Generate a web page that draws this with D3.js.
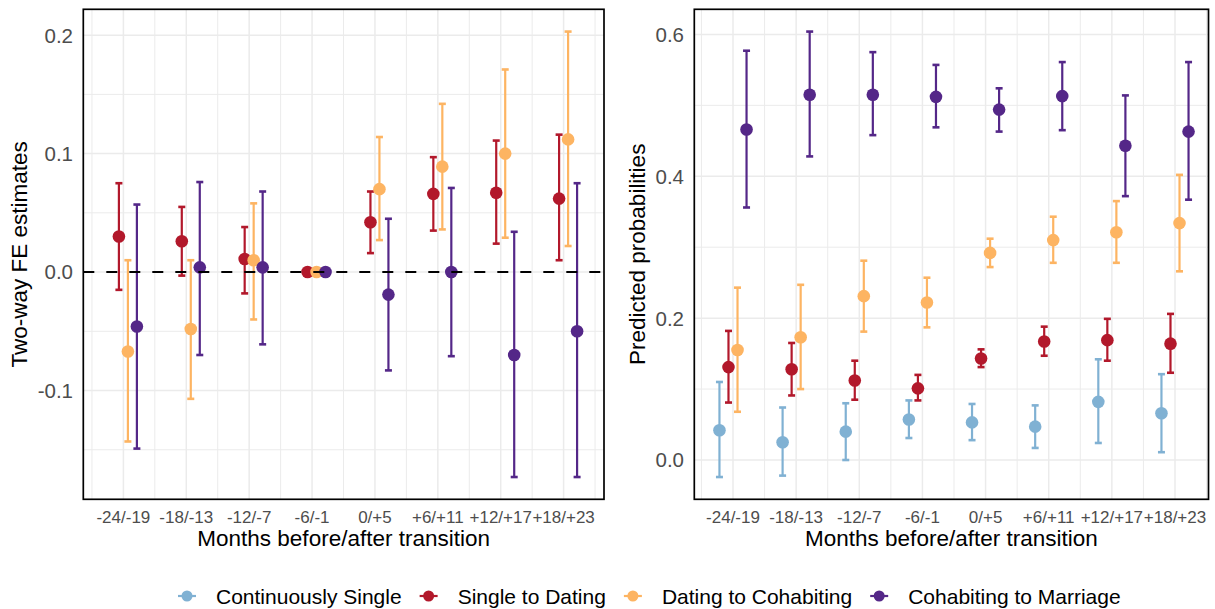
<!DOCTYPE html>
<html>
<head>
<meta charset="utf-8">
<script src="https://cdn.jsdelivr.net/npm/d3@7"></script>
<style>
  body { margin: 0; background: #fff; }
  svg { display: block; font-family: "Liberation Sans", Arial, sans-serif; }
</style>
</head>
<body>
<div id="chart"></div>
<script>
// categories and series
const periods = ['-24/-19', '-18/-13', '-12/-7', '-6/-1', '0/+5', '+6/+11', '+12/+17', '+18/+23'];
const seriesNames = ['Continuously Single', 'Single to Dating', 'Dating to Cohabiting', 'Cohabiting to Marriage'];
const seriesColors = ['#80b1d3', '#b2182b', '#fdb462', '#542788'];

// left panel: two-way FE estimates (no continuously single)
const feSingleDating = [0.030, 0.026, 0.011, 0, 0.042, 0.066, 0.067, 0.062];
const feSingleDatingLo = [-0.015, -0.003, -0.018, 0, 0.016, 0.035, 0.024, 0.010];
const feSingleDatingHi = [0.075, 0.055, 0.038, 0, 0.068, 0.097, 0.111, 0.116];
const feDatingCohab = [-0.067, -0.048, 0.010, 0, 0.070, 0.089, 0.100, 0.112];
const feDatingCohabLo = [-0.143, -0.107, -0.040, 0, 0.027, 0.036, 0.029, 0.022];
const feDatingCohabHi = [0.010, 0.010, 0.058, 0, 0.114, 0.142, 0.171, 0.203];
const feCohabMarr = [-0.046, 0.004, 0.004, 0, -0.019, 0.000, -0.070, -0.050];
const feCohabMarrLo = [-0.149, -0.070, -0.061, 0, -0.083, -0.071, -0.173, -0.173];
const feCohabMarrHi = [0.057, 0.076, 0.068, 0, 0.045, 0.071, 0.034, 0.075];

// right panel: predicted probabilities
const ppSingle = [0.042, 0.025, 0.040, 0.057, 0.053, 0.047, 0.082, 0.066];
const ppSingleLo = [-0.024, -0.022, 0.000, 0.031, 0.028, 0.017, 0.024, 0.011];
const ppSingleHi = [0.110, 0.074, 0.080, 0.084, 0.079, 0.077, 0.142, 0.121];
const ppSingleDating = [0.131, 0.128, 0.112, 0.101, 0.143, 0.167, 0.169, 0.164];
const ppSingleDatingLo = [0.081, 0.091, 0.085, 0.084, 0.131, 0.147, 0.140, 0.123];
const ppSingleDatingHi = [0.182, 0.165, 0.140, 0.120, 0.156, 0.188, 0.199, 0.206];
const ppDatingCohab = [0.155, 0.173, 0.231, 0.222, 0.292, 0.310, 0.321, 0.334];
const ppDatingCohabLo = [0.068, 0.100, 0.181, 0.187, 0.272, 0.278, 0.278, 0.266];
const ppDatingCohabHi = [0.243, 0.247, 0.281, 0.257, 0.312, 0.343, 0.365, 0.402];
const ppCohabMarr = [0.466, 0.515, 0.515, 0.512, 0.494, 0.513, 0.443, 0.463];
const ppCohabMarrLo = [0.356, 0.428, 0.458, 0.469, 0.463, 0.465, 0.372, 0.367];
const ppCohabMarrHi = [0.577, 0.604, 0.575, 0.557, 0.524, 0.561, 0.514, 0.561];

const leftTicks = [-0.1, 0.0, 0.1, 0.2];
const leftMinor = [-0.15, -0.05, 0.05, 0.15];
const rightTicks = [0.0, 0.2, 0.4, 0.6];
const rightMinor = [0.1, 0.3, 0.5];

const width = 1215;
const height = 609;
const gridColor = '#ebebeb';
const textColor = '#4d4d4d';
const dodge = 0.143;

const svg = d3.select('#chart').append('svg')
  .attr('width', width)
  .attr('height', height);

function makeSeries(group, est, lo, hi) {
  return est.map((v, i) => ({ group, i, est: v, lo: lo[i], hi: hi[i] }));
}

const leftData = [
  makeSeries(1, feSingleDating, feSingleDatingLo, feSingleDatingHi),
  makeSeries(2, feDatingCohab, feDatingCohabLo, feDatingCohabHi),
  makeSeries(3, feCohabMarr, feCohabMarrLo, feCohabMarrHi)
];
const rightData = [
  makeSeries(0, ppSingle, ppSingleLo, ppSingleHi),
  makeSeries(1, ppSingleDating, ppSingleDatingLo, ppSingleDatingHi),
  makeSeries(2, ppDatingCohab, ppDatingCohabLo, ppDatingCohabHi),
  makeSeries(3, ppCohabMarr, ppCohabMarrLo, ppCohabMarrHi)
];

function drawPanel(opts) {
  const { x0, x1, y0, y1, first, last, data, ticks, minor, title, titleX, labelX, zeroLine } = opts;
  const all = data.flat();
  const lo = d3.min(all, d => d.lo);
  const hi = d3.max(all, d => d.hi);
  const pad = (hi - lo) * 0.05;

  // category index -> pixel, positions of first and last category
  const x = d3.scaleLinear().domain([1, periods.length]).range([first, last]);
  const y = d3.scaleLinear().domain([lo - pad, hi + pad]).range([y1, y0]);
  const g = svg.append('g');

  // grid
  const minorX = d3.range(periods.length + 1).map(i => i + 0.5)
    .filter(d => x(d) > x0 && x(d) < x1);
  g.selectAll('.hminor').data(minor).join('line')
    .attr('x1', x0).attr('x2', x1)
    .attr('y1', d => y(d)).attr('y2', d => y(d))
    .attr('stroke', gridColor).attr('stroke-width', 1);
  g.selectAll('.vminor').data(minorX).join('line')
    .attr('x1', d => x(d)).attr('x2', d => x(d))
    .attr('y1', y0).attr('y2', y1)
    .attr('stroke', gridColor).attr('stroke-width', 1);
  g.selectAll('.hmajor').data(ticks).join('line')
    .attr('x1', x0).attr('x2', x1)
    .attr('y1', d => y(d)).attr('y2', d => y(d))
    .attr('stroke', gridColor).attr('stroke-width', 1.5);
  g.selectAll('.vmajor').data(periods).join('line')
    .attr('x1', (d, i) => x(i + 1)).attr('x2', (d, i) => x(i + 1))
    .attr('y1', y0).attr('y2', y1)
    .attr('stroke', gridColor).attr('stroke-width', 1.5);

  // error bars then points
  const px = d => x(d.i + 1 + (d.group - 1.5) * dodge);
  data.forEach(series => {
    const color = seriesColors[series[0].group];
    const bars = g.append('g').attr('stroke', color).attr('stroke-width', 2.2);
    const withBar = series.filter(d => d.hi > d.lo);
    bars.selectAll('.v').data(withBar).join('line')
      .attr('x1', px).attr('x2', px)
      .attr('y1', d => y(d.lo)).attr('y2', d => y(d.hi));
    bars.selectAll('.ct').data(withBar).join('line')
      .attr('x1', d => px(d) - 3.5).attr('x2', d => px(d) + 3.5)
      .attr('y1', d => y(d.hi)).attr('y2', d => y(d.hi))
      .attr('stroke-width', 2.6);
    bars.selectAll('.cb').data(withBar).join('line')
      .attr('x1', d => px(d) - 3.5).attr('x2', d => px(d) + 3.5)
      .attr('y1', d => y(d.lo)).attr('y2', d => y(d.lo))
      .attr('stroke-width', 2.6);
  });
  data.forEach(series => {
    g.append('g').selectAll('circle').data(series).join('circle')
      .attr('cx', px)
      .attr('cy', d => y(d.est))
      .attr('r', 6.3)
      .attr('fill', seriesColors[series[0].group]);
  });

  if (zeroLine) {
    g.append('line')
      .attr('x1', x0).attr('x2', x1)
      .attr('y1', y(0)).attr('y2', y(0))
      .attr('stroke', '#000')
      .attr('stroke-width', 2)
      .attr('stroke-dasharray', '11,12');
  }

  // border
  g.append('rect')
    .attr('x', x0).attr('y', y0)
    .attr('width', x1 - x0).attr('height', y1 - y0)
    .attr('fill', 'none').attr('stroke', '#000').attr('stroke-width', 1.7);

  // tick labels
  g.selectAll('.ytick').data(ticks).join('text')
    .attr('x', labelX)
    .attr('y', d => y(d))
    .attr('dy', '0.36em')
    .attr('text-anchor', 'end')
    .attr('font-size', 20.5)
    .attr('fill', textColor)
    .text(d => d3.format('.1f')(d).replace('−', '-'));
  g.selectAll('.xtick').data(periods).join('text')
    .attr('x', (d, i) => x(i + 1))
    .attr('y', 522.5)
    .attr('text-anchor', 'middle')
    .attr('font-size', 17)
    .attr('fill', textColor)
    .text(d => d);

  // axis titles
  g.append('text')
    .attr('x', (x0 + x1) / 2)
    .attr('y', 545.5)
    .attr('text-anchor', 'middle')
    .attr('font-size', 22.5)
    .attr('fill', '#000')
    .text('Months before/after transition');
  g.append('text')
    .attr('transform', `translate(${titleX},${(y0 + y1) / 2}) rotate(-90)`)
    .attr('text-anchor', 'middle')
    .attr('font-size', 22.5)
    .attr('fill', '#000')
    .text(title);
}

drawPanel({
  x0: 83.3, x1: 604, y0: 9.3, y1: 499.3, first: 123.4, last: 563.6,
  data: leftData, ticks: leftTicks, minor: leftMinor,
  title: 'Two-way FE estimates', titleX: 27, labelX: 73, zeroLine: true
});
drawPanel({
  x0: 694.3, x1: 1208.5, y0: 9.3, y1: 499.3, first: 733, last: 1175,
  data: rightData, ticks: rightTicks, minor: rightMinor,
  title: 'Predicted probabilities', titleX: 645, labelX: 684, zeroLine: false
});

// legend
const legend = svg.append('g').attr('transform', 'translate(0,596)');
let cursor = 187;
seriesNames.forEach((name, i) => {
  const item = legend.append('g');
  item.append('line')
    .attr('x1', cursor - 9).attr('x2', cursor + 9)
    .attr('y1', 0).attr('y2', 0)
    .attr('stroke', seriesColors[i]).attr('stroke-width', 2.2);
  item.append('circle')
    .attr('cx', cursor).attr('cy', 0).attr('r', 5.5)
    .attr('fill', seriesColors[i]);
  const label = item.append('text')
    .attr('x', cursor + 29)
    .attr('dy', '0.36em')
    .attr('font-size', 21)
    .attr('fill', '#000')
    .text(name);
  cursor += 29 + label.node().getComputedTextLength() + 27;
});
</script>
</body>
</html>
